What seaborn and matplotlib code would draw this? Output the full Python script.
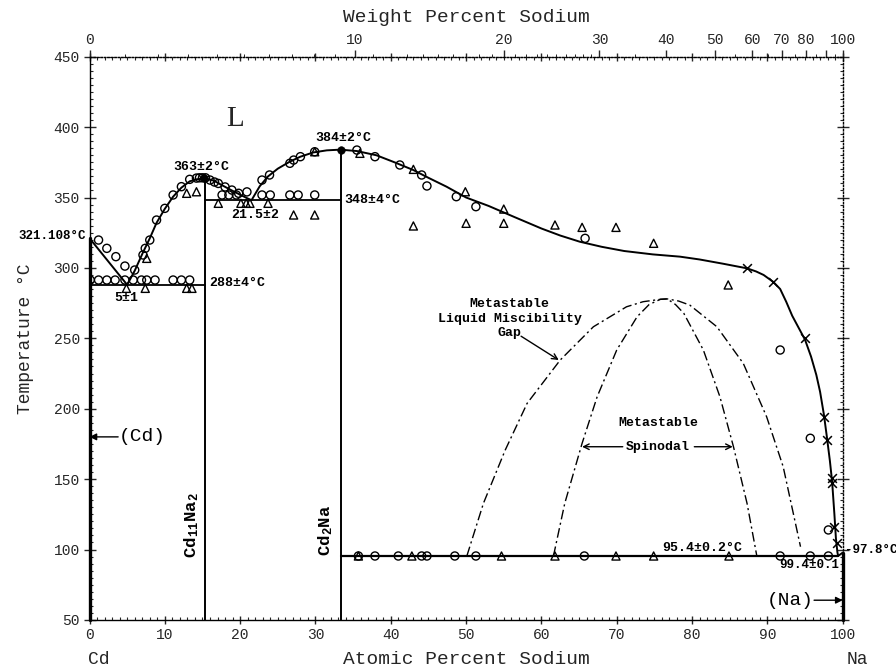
import numpy as np
import pandas as pd
import matplotlib
matplotlib.use('Agg')
import matplotlib.pyplot as plt
import seaborn as sns
from matplotlib.ticker import MultipleLocator, FixedLocator

sns.set_style('ticks')
plt.rcParams['font.family'] = ['Liberation Mono', 'DejaVu Sans']
plt.rcParams['mathtext.fontset'] = 'custom'
plt.rcParams['mathtext.rm'] = 'Liberation Mono:bold'
plt.rcParams['mathtext.it'] = 'Liberation Mono:bold'
plt.rcParams['mathtext.bf'] = 'Liberation Mono:bold'

# ---------------- data (atomic % Na, temperature degC) ----------------
circle_x = [1.2, 2.3, 3.5, 4.7, 6.0, 7.1, 7.4, 8.0, 8.9, 10.0, 11.1, 12.2, 13.3,
            14.2, 14.6, 15.0, 15.4, 16.0, 16.6, 17.1, 18.0, 18.9, 19.8, 20.9,
            17.6, 18.5, 19.5, 22.9, 24.0, 26.6, 27.7, 29.9,
            22.9, 23.9, 26.6, 27.1, 28.0, 29.9, 35.5, 37.9, 41.2, 44.1, 44.8,
            48.7, 51.3, 65.8, 91.7, 95.7, 98.1,
            0.1, 1.2, 2.3, 3.4, 4.7, 5.8, 6.9, 7.6, 8.7, 11.1, 12.2, 13.3,
            35.7, 37.9, 41.0, 44.1, 44.8, 48.5, 51.3, 65.7, 91.7, 95.7, 98.1]
circle_t = [319.8, 313.9, 308.0, 301.3, 298.5, 309.2, 313.9, 319.8, 334.0, 342.3, 351.8, 357.7, 362.9,
            363.8, 364.0, 364.0, 364.0, 362.4, 361.0, 360.0, 357.5, 355.3, 353.0, 354.0,
            351.8, 351.8, 351.8, 351.8, 351.8, 351.8, 351.8, 351.8,
            362.4, 366.0, 374.3, 376.6, 379.0, 382.5, 383.7, 379.0, 373.1, 366.0, 358.2,
            350.6, 343.5, 321.0, 241.7, 179.0, 113.9,
            291.4, 291.4, 291.4, 291.4, 291.4, 291.4, 291.4, 291.4, 291.4, 291.4, 291.4, 291.4,
            95.4, 95.4, 95.4, 95.4, 95.4, 95.4, 95.4, 95.4, 95.4, 95.4, 95.4]

tri_x = [7.6, 12.9, 14.2, 17.1, 20.1, 20.8, 21.3, 23.7, 27.1, 29.9, 29.9, 35.9,
         43.0, 43.0, 49.9, 50.0, 55.0, 55.0, 61.8, 65.4, 69.9, 74.9, 84.8,
         4.9, 7.4, 12.9, 13.6,
         35.7, 42.8, 54.7, 61.8, 69.9, 74.9, 84.9]
tri_t = [306.8, 353.0, 354.1, 345.9, 345.9, 345.9, 345.9, 345.9, 337.6, 337.6, 382.5, 381.4,
         370.0, 329.8, 354.1, 331.7, 341.8, 331.7, 330.5, 328.8, 328.8, 317.5, 287.9,
         285.5, 285.5, 285.5, 285.5,
         95.4, 95.4, 95.4, 95.4, 95.4, 95.4, 95.4]

cross_x = [87.3, 90.8, 95.0, 97.5, 97.9, 98.6, 98.6, 98.9, 99.2]
cross_t = [299.7, 290.2, 250.0, 194.3, 177.8, 150.5, 147.0, 116.2, 104.4]

liq_x = [0, 5, 6, 7.1, 8, 8.9, 10, 11.1, 12.2, 13.3, 14.3, 15.4, 16.5, 17.5, 18.9, 20, 21.5,
         22.6, 23.7, 25, 26.6, 28, 29.7, 31.5, 33.3, 35.5, 38.1, 40.5, 43, 45, 47.4, 50, 53,
         56.3, 60, 62.5, 65.1, 68, 71, 74.8, 78.4, 81, 84.1, 87.3, 88.5, 89.5, 90.8, 91.7, 92.5,
         93.3, 94.2, 95, 95.8, 96.5, 97, 97.5, 97.9, 98.3, 98.6, 98.9, 99.1, 99.3, 99.4, 100]
liq_t = [321.108, 288, 298, 311, 321, 332, 342, 350.6, 357, 361.5, 363, 363.5, 362, 359, 355, 352, 348,
         358, 365, 370.5, 375.5, 379, 382, 383.5, 384, 383, 380, 375, 369.5, 364, 357.7, 350, 344,
         336.4, 328, 323, 318.6, 315, 312, 309.6, 308, 306, 303, 299.7, 297.5, 295, 290, 285, 276,
         266, 257, 249, 237, 224, 212, 196, 180, 163, 148, 125, 108, 98, 95.4, 97.8]

gap_x = [50.1, 52.3, 55.2, 58.1, 62.5, 66.9, 71.3, 73.5, 75.8, 76.7, 78.2, 79.7, 83.3, 86.8,
         89.9, 92.1, 94.4]
gap_t = [95.4, 132.8, 170.7, 203.8, 234.6, 258.2, 272.4, 276.0, 277.7, 278.0, 276.5, 273.6,
         258.2, 232.2, 194.3, 158.8, 102.0]

spin_x = [61.6, 63.1, 65.4, 67.4, 70.0, 72.7, 74.3, 75.8, 76.7, 77.8, 78.9, 81.5, 83.7, 85.5,
          87.3, 88.6]
spin_t = [95.4, 132.8, 175.4, 208.5, 241.7, 265.3, 274.0, 277.7, 278.0, 274.0, 267.8, 241.7,
          208.5, 173.0, 132.8, 95.4]

wt_labels = ['0', '10', '20', '30', '40', '50', '60', '70', '80', '', '100']

cd11na2_x = 15.38
cd2na_x = 33.33
eut1_t, eut2_t, eut3_t = 288.0, 348.0, 95.4

M_CD, M_NA = 112.41, 22.99


def at_to_wt(a):
    a = np.asarray(a, dtype=float)
    return 100.0 * a * M_NA / (a * M_NA + (100.0 - a) * M_CD)


def wt_to_at(w):
    w = np.asarray(w, dtype=float)
    return 100.0 * (w / M_NA) / (w / M_NA + (100.0 - w) / M_CD)


pts = pd.concat([
    pd.DataFrame({'x': circle_x, 't': circle_t, 'kind': 'circle'}),
    pd.DataFrame({'x': tri_x, 't': tri_t, 'kind': 'triangle'}),
    pd.DataFrame({'x': cross_x, 't': cross_t, 'kind': 'cross'}),
])

fig = plt.figure(figsize=(8.96, 6.72), dpi=100)
ax = fig.add_axes([0.0999, 0.0775, 0.8406, 0.8381])
ax.set_xlim(0, 100)
ax.set_ylim(50, 450)

K = 'black'
# invariant lines and compounds
ax.plot([0, cd11na2_x], [eut1_t, eut1_t], color=K, lw=1.3)
ax.plot([cd11na2_x, cd2na_x], [eut2_t, eut2_t], color=K, lw=1.3)
ax.plot([cd2na_x, 99.4], [eut3_t, eut3_t], color=K, lw=1.6)
ax.plot([cd11na2_x, cd11na2_x], [50, 363.5], color=K, lw=1.4)
ax.plot([cd2na_x, cd2na_x], [50, 384], color=K, lw=1.4)
ax.plot([0, 0], [50, 321.108], color=K, lw=2.4, clip_on=False)
ax.plot([100, 100], [50, 97.8], color=K, lw=2.4, clip_on=False)

sns.lineplot(x=liq_x, y=liq_t, sort=False, estimator=None, color=K, lw=1.4, ax=ax)
dd = (0, (7, 2.5, 1.5, 2.5))
sns.lineplot(x=gap_x, y=gap_t, sort=False, estimator=None, color=K, lw=1.0, linestyle=dd, ax=ax)
sns.lineplot(x=spin_x, y=spin_t, sort=False, estimator=None, color=K, lw=1.0, linestyle=dd, ax=ax)

c = pts[pts.kind == 'circle']
sns.scatterplot(data=c, x='x', y='t', marker='o', s=34, facecolor='none',
                edgecolor=K, linewidth=1.0, ax=ax, zorder=3)
tr = pts[pts.kind == 'triangle']
sns.scatterplot(data=tr, x='x', y='t', marker='^', s=34, facecolor='none',
                edgecolor=K, linewidth=1.0, ax=ax, zorder=3)
cr = pts[pts.kind == 'cross']
sns.scatterplot(data=cr, x='x', y='t', marker='x', s=40, color=K,
                linewidth=1.1, ax=ax, zorder=3)
sns.scatterplot(x=[15.2, cd2na_x], y=[364, 384], marker='o', s=30, color=K,
                edgecolor=K, ax=ax, zorder=4)

# ---------------- axes formatting ----------------
ax.set_xlabel('')
ax.set_ylabel('Temperature °C', fontsize=13, labelpad=14)
ax.xaxis.set_major_locator(MultipleLocator(10))
ax.xaxis.set_minor_locator(MultipleLocator(1))
ax.yaxis.set_major_locator(MultipleLocator(50))
ax.yaxis.set_minor_locator(MultipleLocator(5))
ax.tick_params(axis='x', which='major', direction='inout', length=6, width=1,
               labelsize=10.5, pad=3, top=True)
ax.tick_params(axis='x', which='minor', direction='in', length=2.5, width=0.8, top=True)
ax.tick_params(axis='y', which='major', direction='inout', length=8, width=1,
               labelsize=10.5, pad=3, right=True)
ax.tick_params(axis='y', which='minor', direction='in', length=2.5, width=0.8, right=True)
for s in ['left', 'bottom']:
    ax.spines[s].set_linewidth(1.0)
    ax.spines[s].set_color(K)
for s in ['right', 'top']:
    ax.spines[s].set_linewidth(1.0)
    ax.spines[s].set_linestyle((0, (1, 1.5)))
    ax.spines[s].set_color(K)

sec = ax.secondary_xaxis('top', functions=(at_to_wt, wt_to_at))
sec.set_xticks([0, 10, 20, 30, 40, 50, 60, 70, 80, 90, 100], labels=wt_labels)
sec.xaxis.set_minor_locator(FixedLocator(list(range(1, 30)) + [35, 45, 55, 65, 75, 85, 95]))
sec.tick_params(which='major', direction='out', length=5, width=1, labelsize=10.5, pad=2)
sec.tick_params(which='minor', direction='out', length=2, width=0.7)
sec.spines['top'].set_linestyle((0, (1, 1.5)))
sec.set_xlabel('Weight Percent Sodium', fontsize=14, labelpad=8)

# bottom labels
ax.text(0.5, -0.071, 'Atomic Percent Sodium', transform=ax.transAxes, ha='center',
        va='center', fontsize=14)
ax.text(-0.002, -0.071, 'Cd', transform=ax.transAxes, ha='left', va='center', fontsize=13)
ax.text(1.019, -0.071, 'Na', transform=ax.transAxes, ha='center', va='center', fontsize=13)

# ---------------- annotations ----------------
B = dict(fontweight='bold', fontsize=9.5, color=K)
ax.text(19.3, 406, 'L', fontsize=21, family='Liberation Serif', ha='center', va='center')
ax.text(14.9, 372, '363±2°C', ha='center', va='center', **B)
ax.text(33.7, 392, '384±2°C', ha='center', va='center', **B)
ax.text(33.9, 348, '348±4°C', ha='left', va='center', **B)
ax.text(22.0, 337.6, '21.5±2', ha='center', va='center', **B)
ax.text(-0.5, 322.7, '321.108°C', ha='right', va='center', clip_on=False,
        fontweight='bold', fontsize=9, color=K)
ax.text(15.9, 289, '288±4°C', ha='left', va='center', **B)
ax.text(4.9, 278.4, '5±1', ha='center', va='center', **B)
ax.text(81.3, 100.9, '95.4±0.2°C', ha='center', va='center', **B)
ax.text(95.5, 89, '99.4±0.1', ha='center', va='center', fontweight='bold', fontsize=9, color=K)
ax.text(100.25, 99.7, '-97.8°C', ha='left', va='center', clip_on=False,
        fontweight='bold', fontsize=9, color=K)
ax.text(55.8, 264, 'Metastable\nLiquid Miscibility\nGap', ha='center', va='center',
        multialignment='center', linespacing=1.3, **B)
ax.annotate('', xy=(62.3, 234.6), xytext=(57.3, 251.5),
            arrowprops=dict(arrowstyle='->', color=K, lw=1.0, shrinkA=0, shrinkB=0))
ax.text(75.5, 189.6, 'Metastable', ha='center', va='center', **B)
ax.text(75.5, 173, 'Spinodal', ha='center', va='center', **B)
ax.annotate('', xy=(65.4, 173), xytext=(70.8, 173),
            arrowprops=dict(arrowstyle='->', color=K, lw=1.0, shrinkA=0, shrinkB=0))
ax.annotate('', xy=(85.4, 173), xytext=(80.3, 173),
            arrowprops=dict(arrowstyle='->', color=K, lw=1.0, shrinkA=0, shrinkB=0))
ax.text(13.6, 117, r'Cd$_{11}$Na$_2$', rotation=90, ha='center', va='center', fontsize=12.5,
        fontweight='bold', color=K)
ax.text(31.3, 113.5, r'Cd$_2$Na', rotation=90, ha='center', va='center', fontsize=12.5,
        fontweight='bold', color=K)
ax.annotate('', xy=(0, 180), xytext=(3.8, 180),
            arrowprops=dict(arrowstyle='-|>', color=K, lw=1.0, shrinkA=0, shrinkB=0,
                            mutation_scale=10))
ax.text(3.9, 180, '(Cd)', ha='left', va='center', fontsize=14, color=K)
ax.annotate('', xy=(100, 64), xytext=(96.2, 64),
            arrowprops=dict(arrowstyle='-|>', color=K, lw=1.0, shrinkA=0, shrinkB=0,
                            mutation_scale=10))
ax.text(96.1, 64, '(Na)', ha='right', va='center', fontsize=14, color=K)

fig.savefig('out.png', dpi=100, facecolor='white')
